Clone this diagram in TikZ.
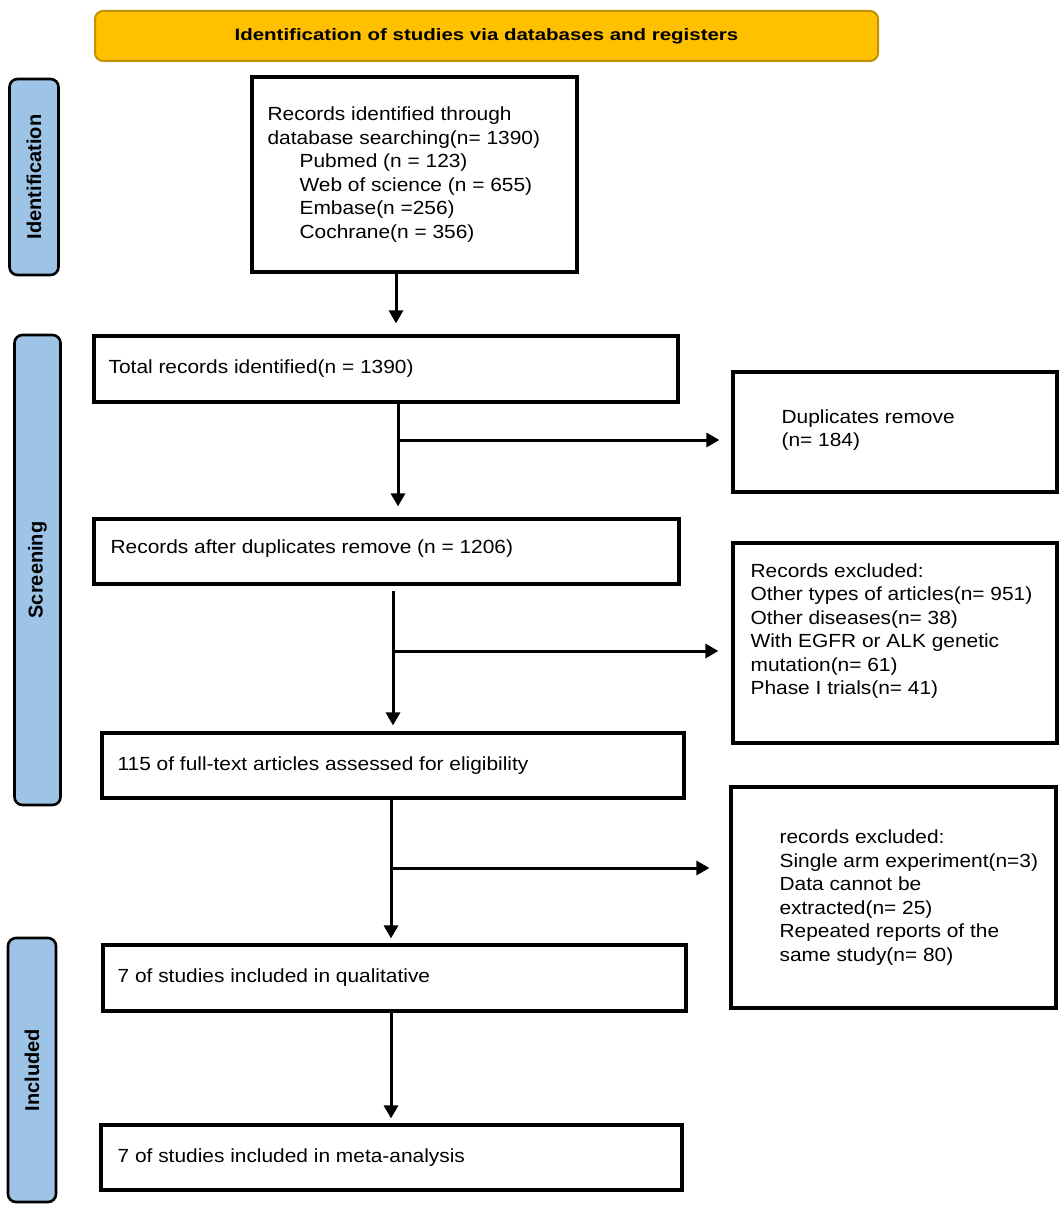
\documentclass[tikz,border=0pt]{standalone}
\usepackage{fontspec}
\setmainfont{Liberation Sans}
\newfontfamily\bodyfont[FakeStretch=1.1]{Liberation Sans}
\newfontfamily\headfont[FakeStretch=1.24]{Liberation Sans}
\usetikzlibrary{arrows.meta}
\definecolor{hdrfill}{HTML}{FFC000}
\definecolor{hdrline}{HTML}{BF9000}
\definecolor{sidefill}{HTML}{9DC3E6}
\tikzset{
  box/.style={draw=black, line width=3.2pt, rectangle, inner sep=0pt},
  txt/.style={inner sep=0pt, anchor=west, align=left,
    font=\bodyfont\fontsize{19}{23.5}\selectfont},
  side/.style={draw=black, line width=2.6pt, fill=sidefill, rounded corners=8pt,
    rotate=90, inner sep=0pt, font=\bfseries\fontsize{20}{22}\selectfont},
  head/.style={draw=hdrline, line width=2pt, fill=hdrfill, rounded corners=8pt,
    inner sep=0pt, font=\headfont\bfseries\fontsize{16.5}{20}\selectfont},
  arr/.style={line width=3pt, -{Triangle[length=13pt,width=14pt]}},
}
\begin{document}
\begin{tikzpicture}[x=1pt,y=-1pt]
\useasboundingbox (0,0) rectangle (1063,1215);

% header
\node[head, minimum width=783pt, minimum height=50pt] (hdr) at (486.5,36) {Identification of studies via databases and registers};

% side labels
\node[side, minimum width=196pt, minimum height=49pt] (sid) at (34,177) {Identification};
\node[side, minimum width=470pt, minimum height=46pt] (sscr) at (37.5,570) {Screening};
\node[side, minimum width=264pt, minimum height=48pt] (sinc) at (32,1070) {Included};

% boxes
\node[box, minimum width=325pt, minimum height=195pt] (b1) at (414.5,174.5) {};
\node[box, minimum width=584pt, minimum height=66pt] (b2) at (386,369) {};
\node[box, minimum width=324pt, minimum height=120pt] (dup) at (895,432) {};
\node[box, minimum width=585pt, minimum height=65pt] (b3) at (386.5,551.5) {};
\node[box, minimum width=324pt, minimum height=200pt] (ex1) at (895,643) {};
\node[box, minimum width=582pt, minimum height=65pt] (b4) at (393,765.5) {};
\node[box, minimum width=325pt, minimum height=221pt] (ex2) at (893.5,897.5) {};
\node[box, minimum width=583pt, minimum height=66pt] (b5) at (394.5,978) {};
\node[box, minimum width=581pt, minimum height=65pt] (b6) at (391.5,1157.5) {};

% texts
\node[txt] (t1) at ([xshift=17pt]b1.west) {Records identified through\\database searching(n= 1390)\\\hspace*{32pt}Pubmed (n = 123)\\\hspace*{32pt}Web of science (n = 655)\\\hspace*{32pt}Embase(n =256)\\\hspace*{32pt}Cochrane(n = 356)};
\node[txt] (t2) at ([xshift=16pt]b2.west) {Total records identified(n = 1390)};
\node[txt] (tdup) at ([xshift=50pt,yshift=2pt]dup.west) {Duplicates remove\\(n= 184)};
\node[txt] (t3) at ([xshift=18pt,yshift=3pt]b3.west) {Records after duplicates remove (n = 1206)};
\node[txt] (tex1) at ([xshift=19pt,yshift=12pt]ex1.west) {Records excluded:\\Other types of articles(n= 951)\\Other diseases(n= 38)\\With EGFR or ALK genetic\\mutation(n= 61)\\Phase I trials(n= 41)};
\node[txt] (t4) at ([xshift=17pt]b4.west) {115 of full-text articles assessed for eligibility};
\node[txt] (tex2) at ([xshift=50pt]ex2.west) {records excluded:\\Single arm experiment(n=3)\\Data cannot be\\extracted(n= 25)\\Repeated reports of the\\same study(n= 80)};
\node[txt] (t5) at ([xshift=16pt]b5.west) {7 of studies included in qualitative};
\node[txt] (t6) at ([xshift=18pt]b6.west) {7 of studies included in meta-analysis};

% connector coordinates
\coordinate (v1) at (396,0);
\coordinate (v2) at (398,0);
\coordinate (v3) at (393,0);
\coordinate (v4) at (391,0);
\coordinate (j1) at (398,440);
\coordinate (j2) at (393,651);
\coordinate (j3) at (391,868);

% connectors
\draw[arr, shorten >=11pt] (b1.south -| v1) -- (b2.north -| v1);
\draw[arr, shorten >=11pt] (b2.south -| v2) -- (b3.north -| v2);
\draw[arr, shorten >=12pt] (j1) -- (j1 -| dup.west);
\draw[arr, shorten <=5pt, shorten >=6pt] (b3.south -| v3) -- (b4.north -| v3);
\draw[arr, shorten >=13pt] (j2) -- (j2 -| ex1.west);
\draw[arr, shorten >=5pt] (b4.south -| v4) -- (b5.north -| v4);
\draw[arr, shorten >=20pt] (j3) -- (j3 -| ex2.west);
\draw[arr, shorten >=5pt] (b5.south -| v4) -- (b6.north -| v4);
\end{tikzpicture}
\end{document}
